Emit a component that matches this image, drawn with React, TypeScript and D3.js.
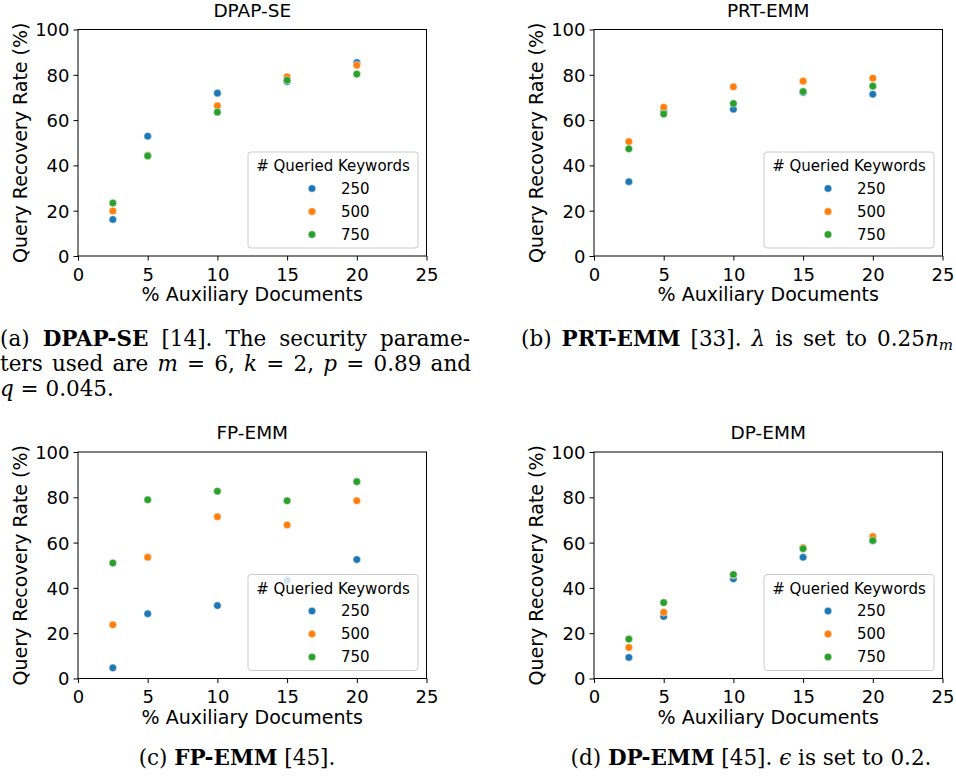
import React, { useEffect, useRef } from 'react';
import * as d3 from 'd3';

// % of auxiliary documents on the x axis
const auxDocs = [2.5, 5, 10, 15, 20];
const keywordCounts = ['250', '500', '750'];
const seriesColors = ['#1f77b4', '#ff7f0e', '#2ca02c'];
const xTicks = [0, 5, 10, 15, 20, 25];
const yTicks = [0, 20, 40, 60, 80, 100];

// query recovery rate (%) per scheme and # queried keywords
const dpapse250 = [16.1, 52.9, 71.9, 77.0, 85.4];
const dpapse500 = [19.9, 44.5, 66.3, 79.1, 84.2];
const dpapse750 = [23.4, 44.2, 63.5, 77.6, 80.3];

const prtemm250 = [32.8, 63.8, 64.8, 72.2, 71.4];
const prtemm500 = [50.5, 65.7, 74.7, 77.2, 78.5];
const prtemm750 = [47.3, 62.7, 67.3, 72.6, 75.0];

const fpemm250 = [4.7, 28.6, 32.2, 43.4, 52.5];
const fpemm500 = [23.7, 53.5, 71.4, 67.8, 78.5];
const fpemm750 = [51.0, 78.9, 82.7, 78.5, 86.9];

const dpemm250 = [9.3, 27.4, 44.0, 53.5, 60.8];
const dpemm500 = [13.7, 29.2, 45.7, 57.8, 62.7];
const dpemm750 = [17.4, 33.5, 45.9, 57.3, 60.9];

const panelTitles = ['DPAP-SE', 'PRT-EMM', 'FP-EMM', 'DP-EMM'];
const panelSeries = [
  [dpapse250, dpapse500, dpapse750],
  [prtemm250, prtemm500, prtemm750],
  [fpemm250, fpemm500, fpemm750],
  [dpemm250, dpemm500, dpemm750],
];

const W = 956;
const H = 780;
const FONT = 'DejaVu Sans, sans-serif';
const SERIF = 'DejaVu Serif, serif';

const Charts: React.FC = () => {
  const ref = useRef<SVGSVGElement>(null);

  useEffect(() => {
    if (!ref.current) return;
    const svg = d3.select(ref.current);
    svg.selectAll('g.panel').remove();

    const pw = 348.5;
    const ph = 226.5;
    const lefts = [78, 594];
    const tops = [29.5, 452];

    panelTitles.forEach((title, i) => {
      const left = lefts[i % 2];
      const top = tops[Math.floor(i / 2)];
      const g = svg.append('g').attr('class', 'panel')
        .attr('transform', `translate(${left},${top})`);

      const x = d3.scaleLinear().domain([0, 25]).range([0, pw]);
      const y = d3.scaleLinear().domain([0, 100]).range([ph, 0]);

      // axes
      const xAxis = g.append('g')
        .attr('transform', `translate(0,${ph})`)
        .call(d3.axisBottom(x).tickValues(xTicks).tickSize(4.5).tickPadding(4).tickFormat(d3.format('d')));
      const yAxis = g.append('g')
        .call(d3.axisLeft(y).tickValues(yTicks).tickSize(4.5).tickPadding(4).tickFormat(d3.format('d')));
      [xAxis, yAxis].forEach(a => {
        a.select('.domain').remove();
        a.attr('font-family', FONT).attr('font-size', 18).attr('color', '#000');
        a.selectAll('line').attr('stroke-width', 1);
      });
      xAxis.selectAll('text').attr('dy', '0.9em');
      yAxis.selectAll('text').attr('dy', '0.36em');

      // points
      panelSeries[i].forEach((vals, s) => {
        g.append('g').selectAll('circle')
          .data(vals)
          .join('circle')
          .attr('cx', (_, k) => x(auxDocs[k]))
          .attr('cy', d => y(d))
          .attr('r', 3.8)
          .attr('fill', seriesColors[s])
          .attr('stroke', '#fff')
          .attr('stroke-width', 0.5);
      });

      // frame
      g.append('rect')
        .attr('width', pw).attr('height', ph)
        .attr('fill', 'none').attr('stroke', '#000').attr('stroke-width', 1);

      // title and labels
      g.append('text')
        .attr('x', pw / 2).attr('y', -13)
        .attr('text-anchor', 'middle')
        .attr('font-family', FONT).attr('font-size', 18.5)
        .text(title);
      g.append('text')
        .attr('x', pw / 2).attr('y', ph + 45)
        .attr('text-anchor', 'middle')
        .attr('font-family', FONT).attr('font-size', 19)
        .text('% Auxiliary Documents');
      g.append('text')
        .attr('transform', `translate(-51,${ph / 2}) rotate(-90)`)
        .attr('text-anchor', 'middle')
        .attr('font-family', FONT).attr('font-size', 19)
        .text('Query Recovery Rate (%)');

      // legend
      const lw = 170;
      const lh = 96;
      const lg = g.append('g')
        .attr('transform', `translate(${pw - 8.5 - lw},${ph - 8 - lh})`);
      lg.append('rect')
        .attr('width', lw).attr('height', lh).attr('rx', 3)
        .attr('fill', '#fff').attr('fill-opacity', 0.8)
        .attr('stroke', '#cccccc').attr('stroke-width', 1);
      lg.append('text')
        .attr('x', lw / 2).attr('y', 19)
        .attr('text-anchor', 'middle')
        .attr('font-family', FONT).attr('font-size', 15)
        .text('# Queried Keywords');
      keywordCounts.forEach((k, s) => {
        const cy = 36.5 + s * 23;
        lg.append('circle')
          .attr('cx', 64).attr('cy', cy).attr('r', 3.8)
          .attr('fill', seriesColors[s]).attr('stroke', '#fff').attr('stroke-width', 0.5);
        lg.append('text')
          .attr('x', 93).attr('y', cy).attr('dy', '0.36em')
          .attr('font-family', FONT).attr('font-size', 15)
          .text(k);
      });
    });

    // stretch the full-width caption lines by word spacing
    svg.selectAll<SVGTextElement, unknown>('text.justify').each(function () {
      const el = this;
      el.style.wordSpacing = '0px';
      const target = +(el.getAttribute('data-width') || 0);
      const natural = el.getComputedTextLength();
      const spaces = (el.textContent || '').trim().split(/\s+/).length - 1;
      if (spaces > 0 && target > natural) {
        el.style.wordSpacing = `${(target - natural) / spaces}px`;
      }
    });
  }, []);

  const it = { fontStyle: 'italic' } as const;
  const bold = { fontWeight: 'bold' } as const;

  return (
    <svg ref={ref} width={W} height={H} style={{ display: 'block', background: '#fff' }}>
      <g fontFamily={SERIF} fontSize={21.5} fill="#000">
        <text className="justify" data-width={470} x={0} y={346}>
          (a) <tspan style={bold}>DPAP-SE</tspan> [14]. The security parame-
        </text>
        <text className="justify" data-width={471} x={0} y={371}>
          ters used are <tspan style={it}>m</tspan> = 6, <tspan style={it}>k</tspan> = 2, <tspan style={it}>p</tspan> = 0.89 and
        </text>
        <text x={0} y={396}>
          <tspan style={it}>q</tspan> = 0.045.
        </text>
        <text className="justify" data-width={432} x={521} y={346}>
          (b) <tspan style={bold}>PRT-EMM</tspan> [33]. <tspan style={it}>λ</tspan> is set to 0.25<tspan style={it}>n</tspan><tspan style={it} fontSize={15} dy={4}>m</tspan>
        </text>
        <text x={237} y={765} textAnchor="middle">
          (c) <tspan style={bold}>FP-EMM</tspan> [45].
        </text>
        <text x={751} y={765} textAnchor="middle">
          (d) <tspan style={bold}>DP-EMM</tspan> [45]. <tspan style={it}>ϵ</tspan> is set to 0.2.
        </text>
      </g>
    </svg>
  );
};

export default function App() {
  return (
    <div style={{ position: 'absolute', left: 0, top: 0 }}>
      <Charts />
    </div>
  );
}
